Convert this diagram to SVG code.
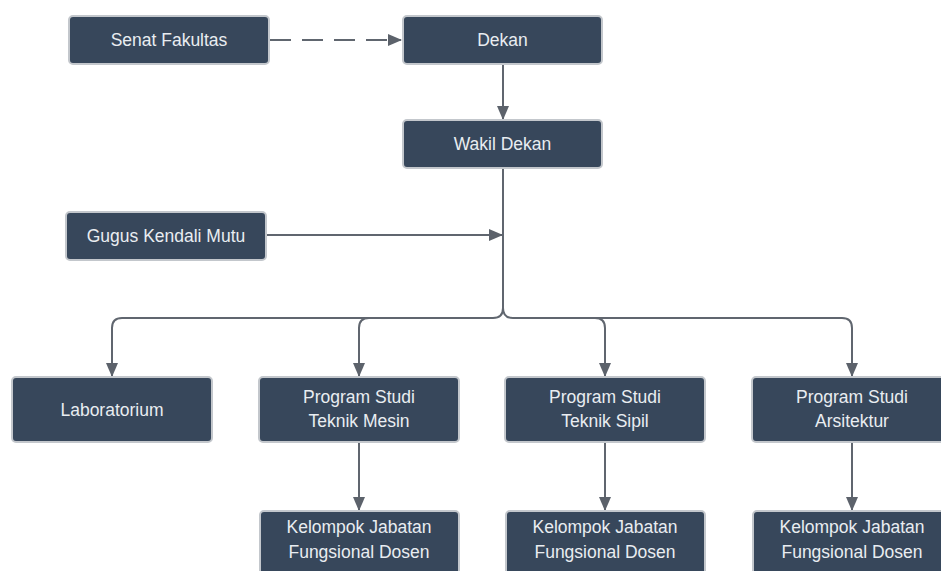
<svg xmlns="http://www.w3.org/2000/svg" width="941" height="571" viewBox="0 0 941 571">
<style>
.box{fill:#37475b;stroke:#c3c7cc;stroke-width:2}
.t{font-family:"Liberation Sans",Arial,sans-serif;font-size:17.5px;fill:#e9edf1;text-anchor:middle}
.c{fill:none;stroke:#60666f;stroke-width:2}
</style>
<defs>
<marker id="ah" viewBox="0 0 14 12" refX="13" refY="6" markerWidth="14" markerHeight="12" markerUnits="userSpaceOnUse" orient="auto">
<path d="M0,0 L14,6 L0,12 Z" fill="#5c626b"/>
</marker>
</defs>
<rect width="941" height="571" fill="#ffffff"/>
<g id="connectors">
<path class="c" d="M270,40 H401" stroke-dasharray="21 11" marker-end="url(#ah)"/>
<path class="c" d="M503,64 V119" marker-end="url(#ah)"/>
<path class="c" d="M267,235 H502" marker-end="url(#ah)"/>
<path class="c" d="M503,168 V308"/>
<path class="c" d="M503,308 Q503,318 493,318 H122 Q112,318 112,328 V376" marker-end="url(#ah)"/>
<path class="c" d="M493,318 H369 Q359,318 359,328 V376" marker-end="url(#ah)"/>
<path class="c" d="M503,308 Q503,318 513,318 H595 Q605,318 605,328 V376" marker-end="url(#ah)"/>
<path class="c" d="M595,318 H842 Q852,318 852,328 V376" marker-end="url(#ah)"/>
<path class="c" d="M359,442 V510" marker-end="url(#ah)"/>
<path class="c" d="M605,442 V510" marker-end="url(#ah)"/>
<path class="c" d="M852,442 V510" marker-end="url(#ah)"/>
</g>
<g id="senat"><rect class="box" x="69" y="16" width="200" height="48" rx="4"/><text class="t" x="169" y="46">Senat Fakultas</text></g>
<g id="dekan"><rect class="box" x="403" y="16" width="199" height="48" rx="4"/><text class="t" x="502.5" y="46">Dekan</text></g>
<g id="wakil"><rect class="box" x="403" y="120" width="199" height="48" rx="4"/><text class="t" x="502.5" y="150">Wakil Dekan</text></g>
<g id="gugus"><rect class="box" x="66" y="212" width="200" height="48" rx="4"/><text class="t" x="166" y="242">Gugus Kendali Mutu</text></g>
<g id="lab"><rect class="box" x="12" y="377" width="200" height="65" rx="4"/><text class="t" x="112" y="416">Laboratorium</text></g>
<g id="ps-mesin"><rect class="box" x="259" y="377" width="200" height="65" rx="4"/><text class="t" x="359" y="403">Program Studi</text><text class="t" x="359" y="427">Teknik Mesin</text></g>
<g id="ps-sipil"><rect class="box" x="505" y="377" width="200" height="65" rx="4"/><text class="t" x="605" y="403">Program Studi</text><text class="t" x="605" y="427">Teknik Sipil</text></g>
<g id="ps-arsitektur"><rect class="box" x="752" y="377" width="200" height="65" rx="4"/><text class="t" x="852" y="403">Program Studi</text><text class="t" x="852" y="427">Arsitektur</text></g>
<g id="kjfd-mesin"><rect class="box" x="260" y="511" width="199" height="70" rx="4"/><text class="t" x="359" y="533">Kelompok Jabatan</text><text class="t" x="359" y="558">Fungsional Dosen</text></g>
<g id="kjfd-sipil"><rect class="box" x="506" y="511" width="199" height="70" rx="4"/><text class="t" x="605" y="533">Kelompok Jabatan</text><text class="t" x="605" y="558">Fungsional Dosen</text></g>
<g id="kjfd-arsitektur"><rect class="box" x="753" y="511" width="199" height="70" rx="4"/><text class="t" x="852" y="533">Kelompok Jabatan</text><text class="t" x="852" y="558">Fungsional Dosen</text></g>
</svg>
